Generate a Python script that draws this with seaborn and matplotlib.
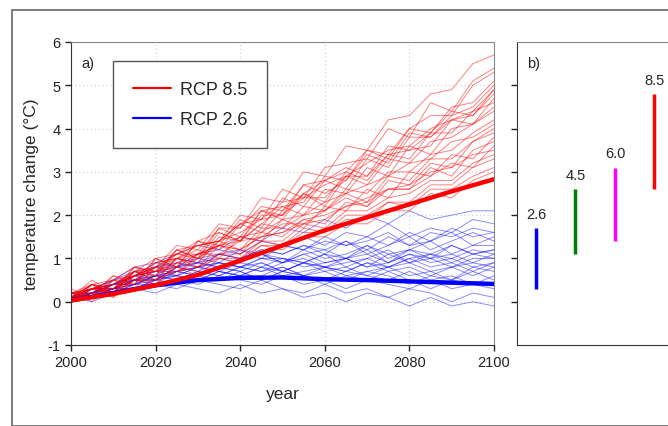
import numpy as np
import pandas as pd
import seaborn as sns
import matplotlib.pyplot as plt
from matplotlib.lines import Line2D
from matplotlib.patches import Rectangle

# datos (cada 5 anios para las corridas)
years_runs = list(range(2000, 2101, 5))
rcp85_runs = [
    [0.1,0.3,0.4,0.7,0.8,1.3,1.2,1.8,1.7,2.4,2.3,3.0,2.9,3.6,3.5,4.2,4.3,4.8,4.9,5.5,5.7],
    [0.2,0.4,0.3,0.8,0.7,1.2,1.3,1.4,2.0,1.9,2.6,2.4,3.1,3.2,3.3,4.0,3.8,4.6,4.4,5.1,5.4],
    [0.0,0.4,0.2,0.7,0.6,1.2,1.0,1.7,1.5,2.1,2.2,2.3,2.9,2.8,3.5,3.3,4.0,3.9,4.5,4.6,5.1],
    [0.1,0.2,0.6,0.4,1.0,0.8,1.4,1.3,1.9,1.7,2.4,2.2,2.8,3.1,2.9,3.6,3.5,3.9,4.4,4.3,4.9],
    [0.3,0.1,0.5,0.8,0.6,1.2,1.0,1.6,1.4,2.0,2.0,2.5,2.3,3.0,2.8,3.4,3.5,3.6,4.2,4.1,4.7],
    [0.1,0.5,0.2,0.7,1.0,0.8,1.4,1.6,1.4,2.1,2.0,2.7,2.5,2.8,3.4,3.2,3.9,3.8,4.3,4.5,5.0],
    [0.0,0.3,0.4,0.4,0.9,1.0,0.9,1.5,1.4,1.8,2.2,2.0,2.6,2.5,3.1,2.9,3.6,3.4,4.0,4.1,4.5],
    [0.1,0.4,0.5,0.4,1.0,1.1,1.1,1.7,1.7,2.2,2.1,2.7,2.8,3.0,3.5,3.4,4.0,4.3,4.3,5.0,5.3],
    [0.2,0.1,0.6,0.5,0.8,1.1,1.0,1.4,1.8,1.6,2.1,2.5,2.2,2.9,2.7,3.3,3.2,3.7,3.8,4.1,4.4],
    [0.1,0.4,0.2,0.8,0.7,1.1,1.4,1.2,1.8,2.1,1.9,2.5,2.8,2.6,3.3,3.1,3.8,3.8,4.2,4.3,4.8],
    [0.1,0.3,0.3,0.6,0.6,1.0,0.9,1.4,1.2,1.7,1.7,2.0,2.1,2.5,2.3,2.9,2.8,3.3,3.3,3.7,4.0],
    [0.0,0.4,0.2,0.7,0.5,1.0,1.2,1.0,1.5,1.4,1.9,1.7,2.2,2.1,2.6,2.4,3.0,2.9,3.4,3.3,3.8],
    [0.2,0.0,0.5,0.3,0.8,0.7,1.0,1.3,1.1,1.6,1.5,1.9,1.8,2.3,2.2,2.6,2.6,2.9,3.2,3.1,3.6],
    [0.1,0.4,0.1,0.6,0.8,0.6,1.1,1.3,1.2,1.5,1.8,1.8,2.1,2.4,2.2,2.8,2.7,3.2,3.1,3.7,3.9],
    [0.1,0.3,0.2,0.6,0.4,0.9,0.8,1.1,1.1,1.4,1.4,1.8,1.7,2.1,2.1,2.4,2.5,2.8,2.8,3.2,3.4],
    [0.0,0.3,0.2,0.5,0.5,0.7,0.8,1.0,1.0,1.3,1.3,1.6,1.6,1.9,1.9,2.3,2.2,2.6,2.6,2.9,3.1],
    [0.2,0.3,0.3,0.7,0.5,1.0,0.8,1.3,1.2,1.5,1.6,1.8,1.9,2.2,2.3,2.6,2.6,3.1,2.9,3.5,3.7],
    [0.1,0.2,0.2,0.5,0.5,0.8,0.7,1.1,1.0,1.4,1.3,1.7,1.6,2.0,2.0,2.3,2.3,2.7,2.7,3.1,3.3],
    [0.1,0.4,0.3,0.7,0.7,1.0,1.1,1.3,1.4,1.8,1.7,2.2,2.1,2.6,2.5,3.0,3.0,3.4,3.5,3.9,4.2],
    [0.1,0.3,0.1,0.5,0.4,0.8,0.6,1.0,0.9,1.3,1.2,1.5,1.5,1.8,1.8,2.1,2.1,2.5,2.4,2.8,3.0],
    [0.2,0.3,0.5,0.6,0.9,1.0,1.3,1.4,1.6,1.9,2.0,2.4,2.4,2.9,2.9,3.4,3.3,3.9,3.9,4.4,4.6],
    [0.0,0.2,0.4,0.6,0.7,0.9,1.1,1.3,1.5,1.6,1.9,2.0,2.3,2.5,2.7,2.9,3.2,3.3,3.7,3.8,4.1],
    [0.1,0.3,0.4,0.6,0.8,1.1,1.3,1.4,1.8,1.9,2.3,2.4,2.7,2.9,3.2,3.5,3.6,4.0,4.2,4.4,4.9],
    [0.2,0.2,0.3,0.6,0.7,0.8,1.1,1.1,1.4,1.5,1.6,1.9,2.0,2.2,2.4,2.6,2.7,3.0,3.1,3.4,3.5],
]
rcp26_runs = [
    [0.1,0.3,0.5,0.8,0.9,1.1,1.3,1.2,1.5,1.4,1.7,1.6,1.9,1.7,2.0,1.8,2.1,1.9,2.0,2.1,2.1],
    [0.1,0.2,0.4,0.6,0.9,0.8,1.1,1.2,1.1,1.4,1.3,1.5,1.3,1.6,1.5,1.8,1.5,1.7,1.6,1.9,1.8],
    [0.0,0.3,0.4,0.7,0.6,0.9,1.0,0.9,1.2,1.1,1.3,1.2,1.4,1.3,1.5,1.3,1.6,1.4,1.7,1.5,1.6],
    [0.2,0.2,0.5,0.5,0.8,0.9,0.8,1.1,1.0,1.2,1.1,1.3,1.1,1.4,1.2,1.5,1.3,1.4,1.6,1.3,1.5],
    [0.1,0.3,0.3,0.6,0.7,0.7,0.9,0.8,1.0,1.1,0.9,1.1,1.2,1.0,1.3,1.1,1.2,1.4,1.1,1.3,1.3],
    [0.1,0.2,0.4,0.5,0.5,0.8,0.7,0.9,0.8,1.0,1.0,0.9,1.1,1.0,1.2,0.9,1.1,1.0,1.3,1.1,1.2],
    [0.0,0.2,0.3,0.4,0.6,0.6,0.8,0.7,0.9,0.8,1.0,0.8,0.9,1.0,0.8,1.1,0.9,1.0,0.8,1.0,1.0],
    [0.1,0.1,0.3,0.5,0.4,0.7,0.6,0.8,0.7,0.9,0.7,0.9,0.8,0.7,0.9,0.8,1.0,0.8,0.9,0.7,0.9],
    [0.2,0.3,0.3,0.5,0.6,0.7,0.8,0.9,0.8,1.0,0.9,1.1,0.9,1.0,1.1,0.9,1.2,1.0,1.1,0.9,1.1],
    [0.1,0.2,0.4,0.4,0.6,0.5,0.7,0.6,0.8,0.7,0.8,0.6,0.8,0.7,0.9,0.7,0.8,0.6,0.8,0.9,0.8],
    [0.0,0.2,0.2,0.4,0.5,0.6,0.5,0.7,0.6,0.8,0.6,0.7,0.8,0.6,0.7,0.8,0.6,0.7,0.5,0.8,0.7],
    [0.1,0.1,0.3,0.3,0.5,0.4,0.6,0.5,0.7,0.5,0.7,0.6,0.5,0.7,0.6,0.5,0.7,0.5,0.6,0.4,0.6],
    [0.1,0.2,0.2,0.4,0.4,0.5,0.4,0.6,0.5,0.4,0.6,0.4,0.5,0.3,0.5,0.4,0.3,0.5,0.3,0.4,0.4],
    [0.0,0.1,0.2,0.3,0.4,0.3,0.5,0.4,0.3,0.5,0.3,0.2,0.4,0.2,0.3,0.1,0.3,0.2,0.0,0.2,0.1],
    [0.1,0.0,0.2,0.3,0.2,0.4,0.3,0.2,0.4,0.2,0.3,0.1,0.2,0.0,0.2,0.1,-0.1,0.1,-0.1,0.0,-0.1],
    [0.1,0.2,0.4,0.6,0.7,0.8,0.9,1.0,0.9,1.1,1.0,0.9,1.1,0.8,1.0,1.2,0.9,1.1,1.0,0.8,0.9],
    [0.0,0.3,0.4,0.6,0.8,0.8,1.0,1.1,1.0,1.2,1.1,1.3,1.2,1.4,1.1,1.3,1.5,1.2,1.4,1.6,1.4],
    [0.1,0.2,0.3,0.3,0.5,0.6,0.5,0.7,0.6,0.6,0.8,0.6,0.7,0.5,0.7,0.6,0.4,0.6,0.5,0.7,0.5],
    [0.2,0.2,0.4,0.5,0.7,0.6,0.8,0.9,0.8,0.7,0.9,1.0,0.8,0.9,1.0,0.8,1.0,1.1,0.9,1.1,1.0],
    [0.1,0.3,0.3,0.5,0.5,0.7,0.8,0.7,0.6,0.8,0.7,0.9,0.7,0.8,0.6,0.8,0.9,0.7,0.8,0.6,0.8],
    [0.1,0.3,0.5,0.7,0.8,1.0,0.9,1.1,1.2,1.0,1.3,1.2,1.5,1.3,1.4,1.6,1.3,1.6,1.5,1.7,1.6],
    [0.0,0.2,0.3,0.5,0.6,0.5,0.7,0.6,0.8,0.9,0.7,0.9,0.8,1.0,0.8,0.9,1.1,0.9,1.0,1.2,1.1],
    [0.2,0.1,0.3,0.4,0.6,0.7,0.6,0.8,0.7,0.5,0.7,0.6,0.4,0.6,0.5,0.7,0.5,0.3,0.5,0.4,0.3],
    [0.1,0.2,0.4,0.6,0.5,0.8,0.9,0.8,1.0,1.1,0.9,1.2,1.0,1.1,1.3,1.0,1.2,1.1,1.3,1.1,1.2],
]
years_mean = list(range(2000, 2101, 10))
rcp85_mean = [0.03, 0.18, 0.38, 0.62, 0.95, 1.3, 1.65, 1.95, 2.25, 2.55, 2.83]
rcp26_mean = [0.03, 0.2, 0.38, 0.5, 0.55, 0.56, 0.52, 0.5, 0.47, 0.44, 0.41]

# panel b: rangos probables 2081-2100
escenarios = ["2.6", "4.5", "6.0", "8.5"]
rango_min = [0.3, 1.1, 1.4, 2.6]
rango_max = [1.7, 2.6, 3.1, 4.8]
colores = ["blue", "green", "magenta", "red"]


def a_tabla(runs):
    filas = []
    for i, run in enumerate(runs):
        for y, v in zip(years_runs, run):
            filas.append({"run": i, "year": y, "temp": v})
    return pd.DataFrame(filas)


sns.set_style("white")
plt.rcParams["font.family"] = ["Liberation Sans", "DejaVu Sans"]

fig = plt.figure(figsize=(6.68, 4.27), dpi=100)
fig.patches.append(Rectangle((12 / 668, 0), 1, 1 - 11 / 427, transform=fig.transFigure,
                             fill=False, edgecolor="#666666", lw=1.2))

ax = fig.add_axes([71 / 668, 1 - 346 / 427, 423 / 668, 303 / 427])
df26 = a_tabla(rcp26_runs)
df85 = a_tabla(rcp85_runs)
sns.lineplot(data=df26, x="year", y="temp", units="run", estimator=None,
             color="blue", lw=0.7, alpha=0.45, ax=ax, legend=False)
sns.lineplot(data=df85, x="year", y="temp", units="run", estimator=None,
             color="red", lw=0.7, alpha=0.5, ax=ax, legend=False)
sns.lineplot(x=years_mean, y=rcp26_mean, color="blue", lw=3.2, ax=ax)
sns.lineplot(x=years_mean, y=rcp85_mean, color="red", lw=3.2, ax=ax)

ax.set_xlim(2000, 2100)
ax.set_ylim(-1, 6)
ax.set_xticks(range(2000, 2101, 20))
ax.set_yticks(range(-1, 7))
ax.set_yticklabels(["-1", "0", "1", "2", "3", "4", "5", "6"])
ax.grid(True, color="#cccccc", ls=(0, (1, 2.5)), lw=0.8)
ax.tick_params(axis="both", direction="out", length=4, width=1, labelsize=10.5,
               colors="#222222", bottom=True, left=True)
for s in ["left", "bottom"]:
    ax.spines[s].set_color("#333333")
for s in ["top", "right"]:
    ax.spines[s].set_color("#888888")
ax.set_xlabel("year", fontsize=12.5, labelpad=12)
ax.set_ylabel("temperature change (°C)", fontsize=12.5, labelpad=6)
ax.text(0.025, 0.955, "a)", transform=ax.transAxes, fontsize=10.5, va="top")

handles = [Line2D([], [], color="red", lw=1.6), Line2D([], [], color="blue", lw=1.6)]
leg = ax.legend(handles, ["RCP 8.5", "RCP 2.6"], loc="upper left",
                bbox_to_anchor=(0.099, 0.937), fontsize=13, frameon=True,
                fancybox=False, framealpha=1, edgecolor="#555555",
                handlelength=2.1, handletextpad=0.5, borderpad=1.1,
                labelspacing=0.75, borderaxespad=0)
leg.get_frame().set_linewidth(1.0)

# panel b
bx = fig.add_axes([517 / 668, 1 - 346 / 427, 160 / 668, 303 / 427])
xpos = [1, 2, 3, 4]
bx.vlines(xpos, rango_min, rango_max, colors=colores, lw=2.5)
for x, top, lab in zip(xpos, rango_max, escenarios):
    bx.text(x, top + 0.17, lab, ha="center", va="bottom", fontsize=10.5)
bx.set_xlim(0.52, 4.57)
bx.set_ylim(-1, 6)
bx.set_yticks(range(0, 6))
bx.set_yticklabels([])
bx.set_xticks([])
bx.tick_params(axis="y", direction="out", length=4, width=1, colors="#222222", left=True)
bx.spines["left"].set_color("#333333")
bx.spines["bottom"].set_color("#333333")
bx.spines["top"].set_color("#888888")
bx.spines["right"].set_visible(False)
bx.text(0.06, 0.955, "b)", transform=bx.transAxes, fontsize=10.5, va="top")

fig.savefig("out.png", dpi=100)
